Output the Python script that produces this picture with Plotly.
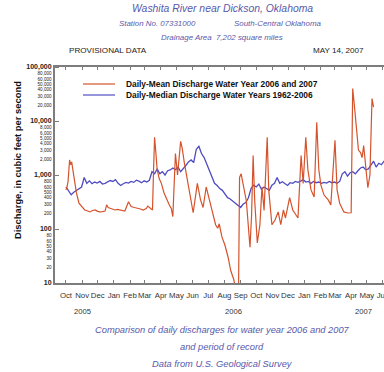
import pandas as pd
import plotly.graph_objects as go

# ---- Daily-mean discharge, water years 2006-2007 (cfs) ----
mean_dates = [
    "2005-10-01", "2005-10-03", "2005-10-05", "2005-10-08", "2005-10-10", "2005-10-12",
    "2005-10-14", "2005-10-17", "2005-10-21", "2005-10-26", "2005-11-01", "2005-11-06",
    "2005-11-12", "2005-11-16", "2005-11-21", "2005-11-26", "2005-12-01", "2005-12-05",
    "2005-12-10", "2005-12-15", "2005-12-18", "2005-12-21", "2005-12-26", "2006-01-03",
    "2006-01-08", "2006-01-13", "2006-01-18", "2006-01-22", "2006-01-29", "2006-02-03",
    "2006-02-09", "2006-02-16", "2006-02-21", "2006-02-26", "2006-03-04", "2006-03-07",
    "2006-03-12", "2006-03-16", "2006-03-18", "2006-03-20", "2006-03-22", "2006-03-25",
    "2006-03-29", "2006-04-02", "2006-04-07", "2006-04-12", "2006-04-17", "2006-04-21",
    "2006-04-24", "2006-04-29", "2006-05-03", "2006-05-09", "2006-05-12", "2006-05-16",
    "2006-05-22", "2006-05-28", "2006-06-02", "2006-06-10", "2006-06-16", "2006-06-21",
    "2006-06-27", "2006-07-01", "2006-07-05", "2006-07-10", "2006-07-15", "2006-07-19",
    "2006-07-22", "2006-07-27", "2006-08-02", "2006-08-08", "2006-08-13", "2006-08-19",
    "2006-08-23", "2006-08-28", "2006-08-30", "2006-09-02", "2006-09-07", "2006-09-12",
    "2006-09-19", "2006-09-22", "2006-09-25", "2006-09-28", "2006-10-03", "2006-10-08",
    "2006-10-12", "2006-10-16", "2006-10-22", "2006-10-25", "2006-10-31", "2006-11-06",
    "2006-11-12", "2006-11-17", "2006-11-22", "2006-11-26", "2006-12-04", "2006-12-10",
    "2006-12-20", "2006-12-26", "2006-12-30", "2007-01-04", "2007-01-08", "2007-01-14",
    "2007-01-20", "2007-01-25", "2007-01-29", "2007-02-02", "2007-02-08", "2007-02-16",
    "2007-02-21", "2007-03-01", "2007-03-05", "2007-03-10", "2007-03-18", "2007-03-26",
    "2007-04-01", "2007-04-04", "2007-04-08", "2007-04-15", "2007-04-19", "2007-04-22",
    "2007-04-25", "2007-04-29", "2007-05-03", "2007-05-07", "2007-05-11", "2007-05-14",
]
mean_cfs = [
    530, 600, 750, 1900, 1550, 1750,
    1300, 820, 470, 300, 250, 225,
    215, 207, 220, 225, 212, 207,
    210, 215, 280, 250, 240, 225,
    230, 225, 218, 215, 320, 260,
    250, 245, 235, 225, 240, 265,
    245, 225, 1200, 5000, 2900, 1250,
    850, 700, 470, 350, 280, 240,
    170, 2500, 1000, 4200, 3100, 1700,
    800, 400, 200, 700, 350, 250,
    600, 420, 300, 180, 120, 103,
    125, 72, 50, 30, 17, 11.5,
    7, 7, 900, 1050, 600, 330,
    46, 180, 2300, 340, 55, 120,
    600, 220, 5000, 520, 120, 147,
    207, 120, 225, 160, 380, 225,
    160, 2300, 700, 5000, 1250, 530,
    390, 9500, 1250, 650, 425, 345,
    280, 4400, 530, 300, 207, 198,
    200, 40000, 16000, 2900, 2600, 2100,
    3500, 1500, 580, 1000, 26000, 18000,
]

# ---- Daily-median discharge 1962-2006, sampled every 5 days from Oct 1 (cfs) ----
median_start = "2005-10-01"
median_cfs = [
    600, 520, 430, 480, 520, 560, 600, 900, 700, 780,
    690, 740, 710, 760, 680, 700, 740, 790, 760, 820,
    700, 640, 690, 730, 710, 760, 730, 800, 770, 720,
    780, 740, 800, 1150, 1050, 1300, 1050, 1150, 1000, 1200,
    1240, 1350, 1250, 1400, 1150, 1300, 1500, 1750, 1900, 1700,
    3000, 3400, 2500, 2100, 1600, 1200, 950, 700, 640, 560,
    520, 450, 380, 360, 330, 300, 270, 250, 290, 310,
    380, 560, 650, 600, 680, 540, 600, 560, 520, 650,
    700, 900, 700, 750, 680, 640, 720, 700, 760, 730,
    770, 820, 740, 760, 700, 760, 720, 740, 700, 730,
    710, 760, 720, 740, 700, 760, 1050, 1150, 950, 1100,
    1150, 1050, 1200, 1350, 1400, 1250, 1300, 1550, 1800, 1400,
    1650, 1550, 1800, 1700,
]

# ---- Axis labels ----
month_starts = pd.date_range("2005-10-01", "2007-06-01", freq="MS")
month_labels = ["Oct", "Nov", "Dec", "Jan", "Feb", "Mar", "Apr", "May", "Jun", "Jul", "Aug",
                "Sep", "Oct", "Nov", "Dec", "Jan", "Feb", "Mar", "Apr", "May", "Jun"]
y_tick_vals = [10, 20, 30, 40, 50, 60, 80,
               100, 200, 300, 400, 500, 600, 800,
               1000, 2000, 3000, 4000, 5000, 6000, 8000,
               10000, 20000, 30000, 40000, 50000, 60000, 80000,
               100000]
y_major_vals = [10, 100, 1000, 10000, 100000]
year_labels = ["2005", "2006", "2007"]
year_label_x = ["2005-11-01", "2006-08-18", "2007-04-24"]

RED = "#d5532c"
BLUE = "#4f4cc2"
TITLE_BLUE = "#5959aa"
FRAME = "#7d7d7d"

W, H = 384, 372
L, R, T, B = 55, 0, 67, 89
PW, PH = W - L - R, H - T - B


def paper_xy(xp, yp):
    return (xp - L) / PW, (H - B - yp) / PH


def ytick_text(v):
    s = f"{v:,}"
    if v in y_major_vals:
        return f"<b>{s}</b>"
    return f"<span style='font-size:4.6px'>{s}</span>"


median_dates = pd.date_range(median_start, periods=len(median_cfs), freq="5D")

fig = go.Figure()
fig.add_trace(go.Scatter(
    x=median_dates, y=median_cfs, mode="lines",
    line=dict(color=BLUE, width=1.3), showlegend=False,
))
fig.add_trace(go.Scatter(
    x=pd.to_datetime(mean_dates), y=mean_cfs, mode="lines",
    line=dict(color=RED, width=1.2), showlegend=False,
))

font_family = "Liberation Sans, Arial, sans-serif"

fig.update_layout(
    width=W, height=H,
    margin=dict(l=L, r=R, t=T, b=B, pad=0, autoexpand=False),
    paper_bgcolor="white", plot_bgcolor="white",
    font=dict(family=font_family, color="#222"),
    showlegend=False,
)

fig.update_xaxes(
    type="date",
    range=["2005-09-10", "2007-06-03"],
    tickmode="array", tickvals=month_starts, ticktext=month_labels,
    tickangle=0, ticklabelstandoff=4, ticklabeloverflow="allow",
    automargin=False,
    ticks="inside", ticklen=3, tickcolor=FRAME, tickwidth=1,
    tickfont=dict(size=7.8, color="#333"),
    showline=True, linecolor=FRAME, linewidth=2, mirror="ticks",
    showgrid=False, zeroline=False,
)
fig.update_yaxes(
    type="log", range=[1, 5],
    tickmode="array", tickvals=y_tick_vals,
    ticktext=[ytick_text(v) for v in y_tick_vals],
    ticks="", tickfont=dict(size=7, color="#222"),
    automargin=False,
    minor=dict(tickmode="array", tickvals=y_major_vals, ticks="inside",
               ticklen=4, tickcolor=FRAME, tickwidth=1),
    showline=True, linecolor=FRAME, linewidth=2, mirror=False,
    showgrid=False, zeroline=False,
)

ann = []


def text(xp, yp, s, size, color="#222", xanchor="center", italic=False, bold=False, angle=0):
    px, py = paper_xy(xp, yp)
    if bold:
        s = f"<b>{s}</b>"
    if italic:
        s = f"<i>{s}</i>"
    ann.append(dict(x=px, y=py, xref="paper", yref="paper", text=s, showarrow=False,
                    xanchor=xanchor, yanchor="middle", textangle=angle,
                    font=dict(size=size, color=color, family=font_family)))


# Header
text(222, 8, "Washita River near Dickson, Oklahoma", 10.4, TITLE_BLUE, italic=True)
text(157, 23, "Station No. 07331000", 7.9, TITLE_BLUE, italic=True)
text(277, 23, "South-Central Oklahoma", 7.9, TITLE_BLUE, italic=True)
text(222, 37, "Drainage Area  7,202 square miles", 7.9, TITLE_BLUE, italic=True)
text(67, 50, "PROVISIONAL DATA", 8.1, "#222", xanchor="left")
text(366, 50, "MAY 14, 2007", 8.1, "#222", xanchor="right")

# Axis title
text(17, 160, "Discharge, in cubic feet per second", 9.4, "#111", bold=True, angle=-90)

# Year labels under the month axis
for lab, d in zip(year_labels, year_label_x):
    ann.append(dict(x=d, y=(H - B - 311) / PH, xref="x", yref="paper", text=lab,
                    showarrow=False, xanchor="center", yanchor="middle",
                    font=dict(size=7.6, color="#333", family=font_family)))

# Footer
text(222, 330, "Comparison of daily discharges for water year 2006 and 2007", 9.3, TITLE_BLUE, italic=True)
text(222, 347, "and period of record", 9.3, TITLE_BLUE, italic=True)
text(222, 364, "Data from U.S. Geological Survey", 9.3, TITLE_BLUE, italic=True)

# Legend
shapes = []
for yp, col, lab in [(84, RED, "Daily-Mean Discharge Water Year 2006 and 2007"),
                     (95, BLUE, "Daily-Median Discharge Water Years 1962-2006")]:
    x0, y0 = paper_xy(83, yp)
    x1, _ = paper_xy(115, yp)
    shapes.append(dict(type="line", xref="paper", yref="paper", x0=x0, x1=x1, y0=y0, y1=y0,
                       line=dict(color=col, width=1.2)))
    text(124, yp, lab, 8.4, "#111", xanchor="left", bold=True)

fig.update_layout(annotations=ann, shapes=shapes)

fig.write_html("out.html")
